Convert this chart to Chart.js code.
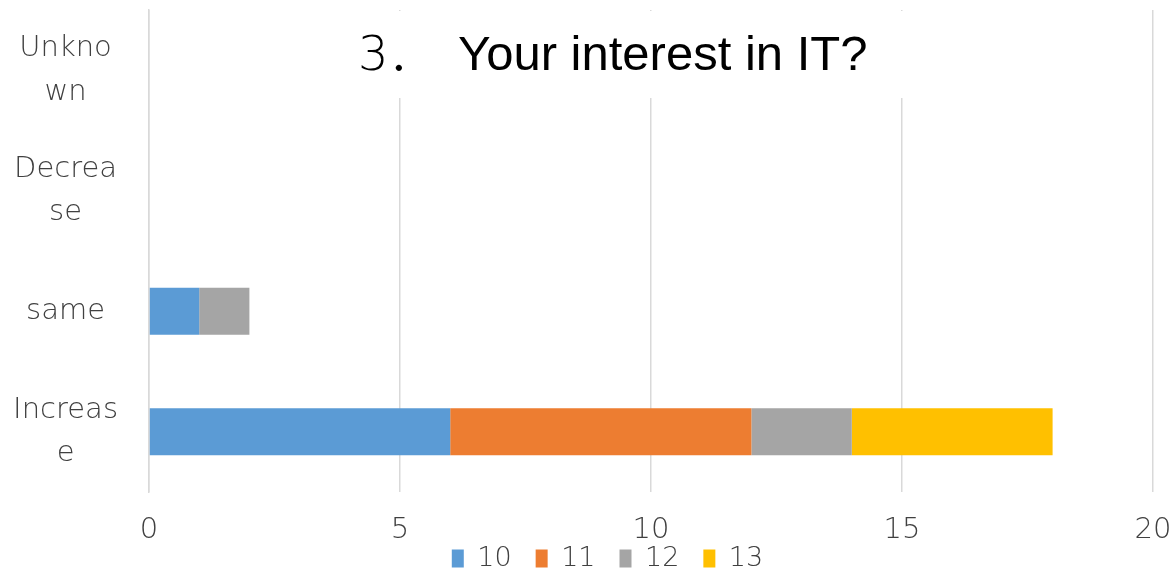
<!DOCTYPE html>
<html lang="en">
<head>
<meta charset="utf-8">
<script src="https://cdn.jsdelivr.net/npm/chart.js@4.4.1/dist/chart.umd.min.js"></script>
<title>Your interest in IT?</title>
<style>
  html, body { margin: 0; padding: 0; background: #fff; }
</style>
</head>
<body>
<canvas id="itChart" width="1171" height="575"></canvas>
<script>
// answers, top to bottom, split the way the axis wraps them
const categories = [['Unkno', 'wn'], ['Decrea', 'se'], ['same'], ['Increas', 'e']];
const seriesNames = ['10', '11', '12', '13'];
const grade10 = [0, 0, 1, 6];
const grade11 = [0, 0, 0, 6];
const grade12 = [0, 0, 1, 2];
const grade13 = [0, 0, 0, 4];
const xTicks = [0, 5, 10, 15, 20];

const colors = ['#5B9BD5', '#ED7D31', '#A5A5A5', '#FFC000'];
const values = [grade10, grade11, grade12, grade13];

const textColor = '#404040';
const tickFont = { family: 'DejaVu Sans', size: 29, weight: '200', lineHeight: 1.5 };

// title sits on a white box over the top of the plot
const titleBox = {
  id: 'titleBox',
  afterDraw(chart) {
    const ctx = chart.ctx;
    ctx.save();
    ctx.fillStyle = '#fff';
    ctx.fillRect(340, 11, 580, 87);
    ctx.fillStyle = '#000';
    ctx.textBaseline = 'alphabetic';
    ctx.textAlign = 'left';
    ctx.font = '200 48px "DejaVu Sans", "Noto Sans CJK SC"';
    ctx.fillText('3．', 358, 70);
    ctx.font = '49px "Liberation Sans"';
    ctx.fillText('Your interest in IT?', 458, 70);
    ctx.restore();
  }
};

// legend shares one padding for both directions; pull it up under the axis
const legendShift = {
  id: 'legendShift',
  afterLayout(chart) {
    const lg = chart.legend;
    lg.top -= 26; lg.bottom -= 26;
    lg.left += 31; lg.right += 31;
  }
};

new Chart(document.getElementById('itChart'), {
  type: 'bar',
  plugins: [titleBox, legendShift],
  data: {
    labels: categories,
    datasets: seriesNames.map((name, i) => ({
      label: name,
      data: values[i],
      backgroundColor: colors[i],
      borderWidth: 0,
      barPercentage: 0.39,
      categoryPercentage: 1
    }))
  },
  options: {
    indexAxis: 'y',
    responsive: false,
    animation: false,
    layout: { padding: { top: 10, left: 0, right: 18, bottom: -33 } },
    scales: {
      x: {
        stacked: true,
        min: 0,
        max: 20,
        afterBuildTicks: s => { s.ticks = xTicks.map(v => ({ value: v })); },
        afterFit: s => { s.height = 55; s.paddingLeft = 0; s.paddingRight = 0; },
        grid: { color: '#d9d9d9', lineWidth: 1.5, drawTicks: false },
        border: { display: false },
        ticks: { padding: 17, color: textColor, font: tickFont, maxRotation: 0 }
      },
      y: {
        stacked: true,
        afterFit: s => { s.width = 149; s.paddingTop = 0; s.paddingBottom = 0; },
        grid: { display: false, drawTicks: false },
        border: { display: true, color: '#d9d9d9', width: 1.5 },
        ticks: { padding: 31, crossAlign: 'center', color: textColor, font: tickFont }
      }
    },
    plugins: {
      title: { display: false },
      tooltip: { enabled: false },
      legend: {
        position: 'bottom',
        labels: {
          boxWidth: 12,
          boxHeight: 18,
          padding: 24,
          color: textColor,
          font: { family: 'DejaVu Sans', size: 27, weight: '200' }
        }
      }
    }
  }
});
</script>
</body>
</html>
